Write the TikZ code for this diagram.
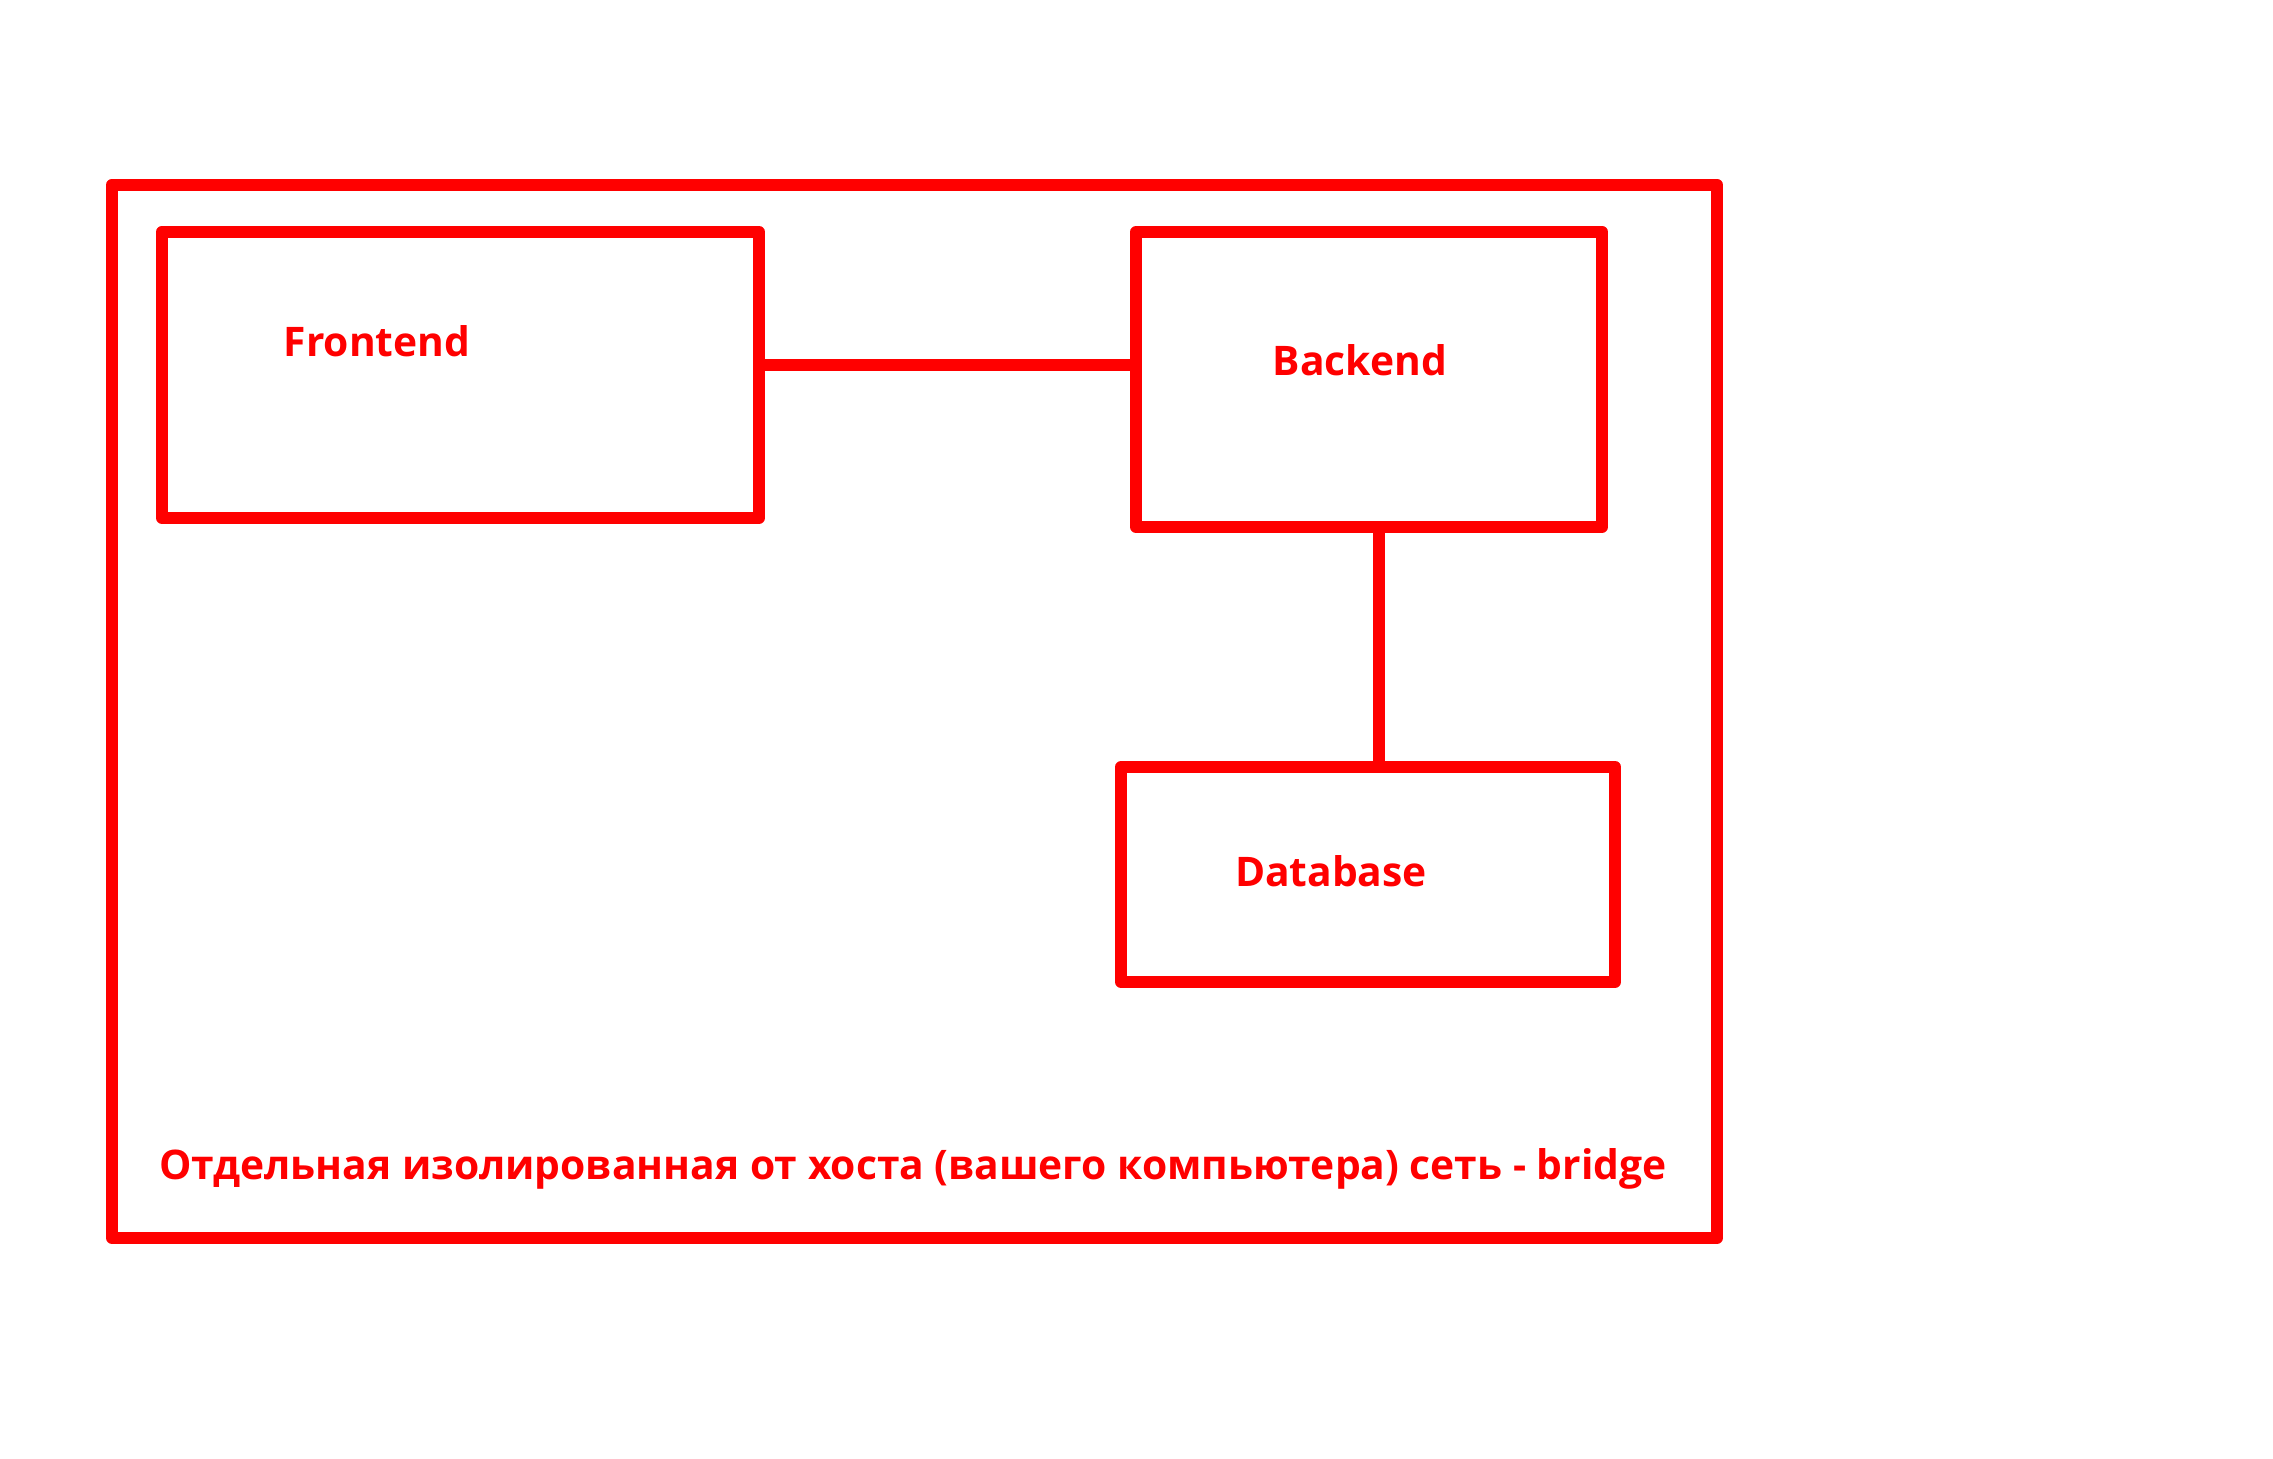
\documentclass[tikz,border=0pt]{standalone}
\usepackage{fontspec}
\setmainfont{Open Sans}
\usepackage{tikz}
\definecolor{netred}{RGB}{255,0,0}

\begin{document}
\begin{tikzpicture}[
  box/.style={draw=netred, line width=1.2mm, line join=round, inner sep=0pt},
  link/.style={draw=netred, line width=1.2mm, line cap=round},
  lbl/.style={text=netred, font=\fontsize{11.6}{13}\selectfont\bfseries, anchor=base, inner sep=0pt}
]
 \useasboundingbox (0,0) rectangle (22.73,14.59);
 % the bridge network
 \node[box, minimum width=16.05cm, minimum height=10.53cm] (net) at (9.145,7.475) {};
 % containers
 \node[box, minimum width=5.97cm, minimum height=2.86cm] (fe) at (4.605,10.84) {};
 \node[box, minimum width=4.66cm, minimum height=2.95cm] (be) at (13.69,10.795) {};
 \node[box, minimum width=4.94cm, minimum height=2.15cm] (db) at (13.68,5.845) {};
 % links
 \draw[link] ([yshift=1mm]fe.east) -- ([yshift=1mm]fe.east -| be.west);
 \draw[link] ([xshift=1mm]be.south) -- ([xshift=1mm,yshift=-0.3mm]be.south |- db.north);
 % labels
 \node[lbl] (fetext) at (3.77,11.02) {Frontend};
 \node[lbl] (betext) at (13.60,10.83) {Backend};
 \node[lbl] (dbtext) at (13.31,5.72) {Database};
 \node[lbl] (nettext) at (9.13,2.79) {Отдельная изолированная от хоста (вашего компьютера) сеть - bridge};
\end{tikzpicture}
\end{document}
